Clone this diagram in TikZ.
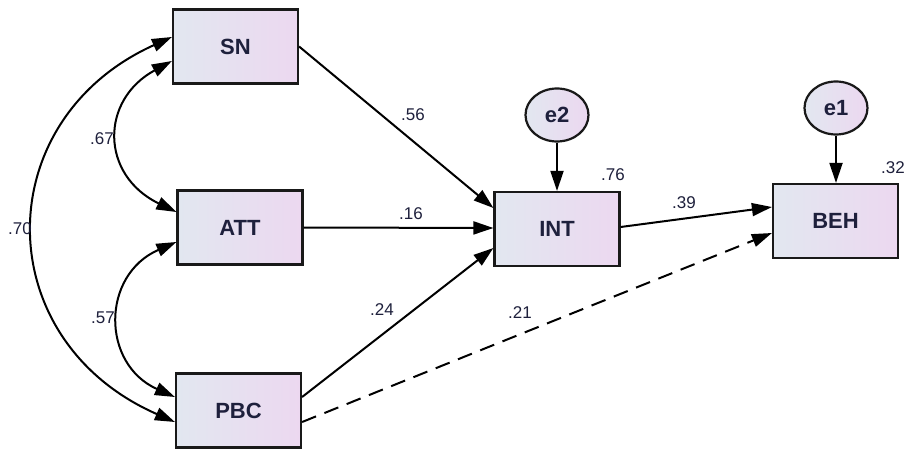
\documentclass[tikz,border=0pt]{standalone}
\usepackage{fontspec}
\setmainfont{Liberation Sans}
\usetikzlibrary{arrows.meta,calc,shapes.geometric}
\definecolor{txt}{RGB}{30,32,60}
\definecolor{fillL}{RGB}{226,231,240}
\definecolor{fillR}{RGB}{236,216,240}
\begin{document}
\begin{tikzpicture}[x=1pt,y=-1pt,
  box/.style={draw=black!90, line width=2.2pt, left color=fillL, right color=fillR,
    minimum width=125pt, minimum height=74pt, inner sep=0pt,
    font=\fontsize{22}{22}\selectfont\bfseries, text=txt},
  err/.style={ellipse, draw=black!90, line width=2.2pt, left color=fillL, right color=fillR,
    minimum width=63pt, minimum height=53pt, inner sep=0pt,
    font=\fontsize{22}{22}\selectfont\bfseries, text=txt},
  coef/.style={font=\fontsize{17}{17}\selectfont, text=txt, inner sep=0pt},
  arr/.style={line width=2pt, -{Triangle[length=20pt,width=13pt]}},
  dbl/.style={line width=2pt, {Triangle[length=20pt,width=13pt]}-{Triangle[length=20pt,width=13pt]}}
]
\useasboundingbox[fill=white] (0,0) rectangle (911,449);

\node[box] (SN)  at (235.5,46.5) {SN};
\node[box] (ATT) at (240,227.5) {ATT};
\node[box] (PBC) at (238.5,410.5) {PBC};
\node[box] (INT) at (557,229) {INT};
\node[box] (BEH) at (835.5,221) {BEH};
\node[err] (e2) at (557,115) {e2};
\node[err] (e1) at (836,108) {e1};

% paths
\draw[arr] (SN.east) -- ($(INT.west)+(0,-21)$);
\draw[arr] (ATT.east) -- ($(INT.west)+(0,-1)$);
\draw[arr] ($(PBC.east)+(0,-13.5)$) -- ($(INT.west)+(0,19)$);
\draw[arr, dash pattern=on 15pt off 9pt] ($(PBC.east)+(0,11.5)$) -- ($(BEH.west)+(0,12)$);
\draw[arr] ($(INT.east)+(0,-2)$) -- ($(BEH.west)+(0,-14)$);
\draw[arr] (e2.south) -- (INT.north);
\draw[arr] (e1.south) -- (BEH.north -| e1.south);

% covariances
\draw[dbl] ($(SN.west)+(0,14.5)$) .. controls (100,100) and (100,175) .. ($(ATT.west)+(0,-15.5)$);
\draw[dbl] ($(SN.west)+(0,-9.5)$) .. controls (-12,120) and (-12,340) .. ($(PBC.west)+(0,11.5)$);
\draw[dbl] ($(ATT.west)+(0,14.5)$) .. controls (101,275) and (101,364) .. ($(PBC.west)+(0,-13.5)$);

% labels
\node[coef] (l56) at (413,115) {.56};
\node[coef] (l16) at (411,214) {.16};
\node[coef] (l24) at (382,310) {.24};
\node[coef] (l21) at (520,313) {.21};
\node[coef] (l39) at (684,203) {.39};
\node[coef] (l76) at (613,175) {.76};
\node[coef] (l32) at (893,168) {.32};
\node[coef] (l67) at (102,139) {.67};
\node[coef] (l70) at (20,229) {.70};
\node[coef] (l57) at (103,318) {.57};
\end{tikzpicture}
\end{document}
